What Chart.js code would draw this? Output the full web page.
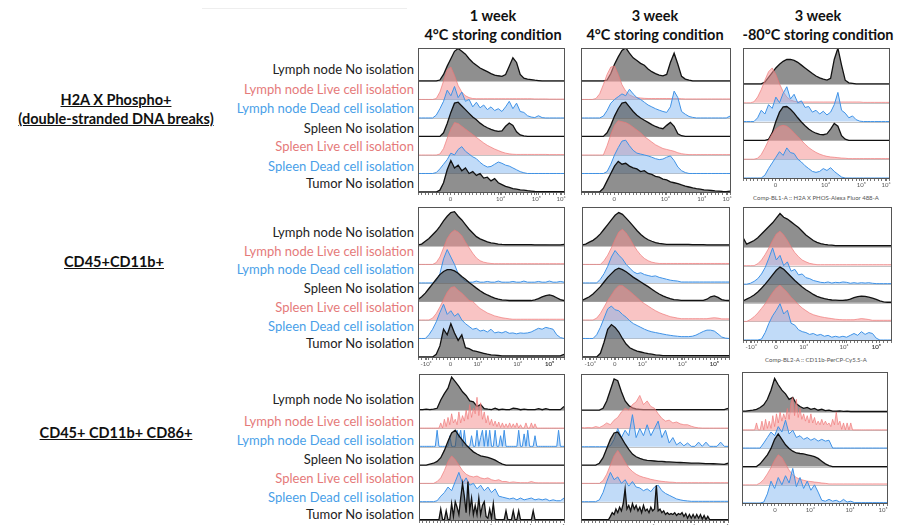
<!DOCTYPE html>
<html>
<head>
<meta charset="utf-8">
<script src="https://cdn.jsdelivr.net/npm/chart.js@4.4.1/dist/chart.umd.min.js"></script>
<style>
  body { margin: 0; background: #fff; }
  #fig { position: relative; width: 901px; height: 525px; overflow: hidden; background: #fff;
         font-family: Lato, "Open Sans", sans-serif; }
  .t { position: absolute; white-space: nowrap; line-height: 14px; }
  .lab { font-size: 13px; text-align: right; }
  .head { font-weight: bold; font-size: 14.5px; color: #111; transform: translateX(-50%); }
  .grp { font-weight: bold; font-size: 14.5px; color: #111; text-decoration: underline; transform: translateX(-50%); }
  .ax { font-size: 6px; color: #555; line-height: 8px; transform: translateX(-50%); }
  .pane { position: absolute; }
</style>
</head>
<body>
<div id="fig"></div>
<script>
// --- text ---
const rowNames = ['Lymph node No isolation', 'Lymph node Live cell isolation', 'Lymph node Dead cell isolation',
  'Spleen No isolation', 'Spleen Live cell isolation', 'Spleen Dead cell isolation', 'Tumor No isolation'];
const rowKinds = ['none', 'live', 'dead', 'none', 'live', 'dead', 'none'];
const markers = [['H2A X Phospho+', '(double-stranded DNA breaks)'], ['CD45+CD11b+'], ['CD45+ CD11b+ CD86+']];
const columns = [['1 week', '4°C storing condition'], ['3 week', '4°C storing condition'], ['3 week', '-80°C storing condition']];
const axisTitles = ['Comp-BL1-A :: H2A X PHOS-Alexa Fluor 488-A', 'Comp-BL2-A :: CD11b-PerCP-Cy5.5-A'];

// x runs 0..40 across each panel (channel position)
const h2aTickVals = [8.9, 22.6, 32.4, 39.2];
const h2aTickText = ['0', '10⁴', '10⁵', '10⁶'];
const cd11bTickVals = [2.2, 8.9, 16.4, 27.3, 36];
const cd11bTickText = ['-10³', '0', '10³', '10⁴', '10⁵'];
const cd86TickVals = [9.1, 18.8, 29.8, 38.9];
const cd86TickText = ['0', '10³', '10⁴', '10⁵'];

// --- histogram heights (in row units), one list per sample row ---
const h2a1w = [
  [0,0,0,0,0,0,0.05,0.35,0.8,1.2, 1.6,1.75,1.6,1.45,1.2,1.0,0.85,0.7,0.6,0.5, 0.4,0.32,0.28,0.25,0.35,0.8,1.25,1.0,0.35,0.15, 0.1,0.07,0.04,0.02,0,0,0,0,0,0, 0],
  [0,0,0,0,0,0.05,0.4,1.0,1.6,1.75, 1.3,0.75,0.4,0.2,0.1,0.05,0.04,0.04,0.04,0.04, 0.04,0.04,0.04,0.04,0.04,0.04,0.04,0.04,0.04,0.04, 0.04,0.04,0.03,0.03,0.03,0.03,0.02,0.02,0.02,0.02, 0.02],
  [0,0,0,0,0,0.15,0.5,0.9,1.5,1.2, 1.7,1.1,1.4,0.9,1.0,0.6,0.85,0.55,0.7,0.45, 0.6,0.4,0.5,0.35,0.6,0.9,0.5,0.8,0.35,0.3, 0.12,0.05,0.02,0.12,0.02,0,0,0,0,0, 0],
  [0,0,0,0,0,0,0,0.2,0.7,1.3, 1.8,1.85,1.65,1.45,1.25,1.05,0.9,0.72,0.58,0.47, 0.38,0.32,0.28,0.3,0.55,0.73,0.6,0.25,0.08,0.03, 0,0,0,0,0,0,0,0,0,0, 0],
  [0,0,0,0,0,0,0.05,0.35,0.9,1.4, 1.75,1.7,1.55,1.4,1.25,1.1,0.95,0.8,0.65,0.52, 0.42,0.32,0.24,0.16,0.1,0.06,0.04,0.03,0.03,0.03, 0.03,0.03,0.03,0.03,0.03,0.03,0.02,0.02,0.02,0.02, 0.02],
  [0,0,0,0,0,0.05,0.25,0.5,0.75,1.1, 1.0,1.3,1.45,1.2,1.05,0.9,0.8,0.6,0.45,0.35, 0.38,0.5,0.62,0.55,0.45,0.4,0.3,0.2,0.1,0.04, 0,0,0,0,0,0,0,0,0,0, 0],
  [0,0,0,0,0,0,0.1,0.5,1.2,1.7, 1.3,1.45,1.15,1.3,1.0,1.1,0.9,1.0,0.75,0.8, 0.6,0.72,0.5,0.4,0.3,0.25,0.18,0.15,0.12,0.1, 0.07,0.05,0.03,0.02,0.02,0.02,0.02,0.02,0.02,0.02, 0.02]
];
const h2a3w4 = [
  [0,0,0,0,0,0,0,0.05,0.4,0.9, 1.3,1.65,1.8,1.5,1.25,1.1,0.95,0.85,0.65,0.5, 0.4,0.32,0.28,0.35,1.0,1.5,0.9,0.25,0.1,0.04, 0,0,0,0,0,0,0,0,0,0, 0],
  [0,0,0,0,0.05,0.3,0.8,1.35,1.75,1.8, 1.35,0.8,0.45,0.25,0.15,0.1,0.08,0.06,0.05,0.05, 0.05,0.05,0.05,0.05,0.05,0.05,0.05,0.04,0.03,0.03, 0.03,0.03,0.03,0.03,0.03,0.03,0.03,0.03,0.03,0.03, 0.03],
  [0,0,0,0,0,0,0.1,0.4,0.8,1.0, 1.15,1.3,1.2,1.55,1.3,1.1,1.0,0.85,0.7,0.6, 0.5,0.42,0.35,0.3,0.6,1.45,1.1,0.35,0.2,0.08, 0.03,0,0,0,0,0,0,0,0,0, 0.1],
  [0,0,0,0,0,0,0,0.2,0.6,1.1, 1.5,1.8,1.85,1.6,1.35,1.15,1.0,0.88,0.76,0.64, 0.54,0.46,0.42,0.6,0.76,0.55,0.15,0.04,0,0, 0,0,0,0,0,0,0,0,0,0, 0],
  [0,0,0,0,0,0,0,0.5,1.1,1.6, 1.85,1.8,1.75,1.65,1.5,1.35,1.2,1.0,0.85,0.7, 0.55,0.45,0.35,0.3,0.25,0.2,0.12,0.07,0.04,0.02, 0.02,0.02,0.02,0.02,0.02,0.02,0.02,0.02,0.02,0.02, 0.02],
  [0,0,0,0,0,0,0,0.1,0.5,1.0, 1.4,1.75,1.8,1.5,1.25,1.1,1.05,1.0,0.95,0.88, 0.8,0.75,0.78,0.88,0.95,0.7,0.35,0.15,0.05,0, 0,0,0,0,0,0,0,0,0,0, 0],
  [0,0,0,0,0,0,0.2,0.6,1.0,1.4, 1.65,1.5,1.55,1.4,1.3,1.25,1.1,1.15,1.0,0.95, 0.85,0.8,0.7,0.65,0.55,0.5,0.45,0.38,0.32,0.27, 0.22,0.18,0.15,0.12,0.1,0.08,0.06,0.05,0.03,0.02, 0.05]
];
const h2a3w80 = [
  [0,0,0,0,0,0,0.1,0.35,0.6,0.85, 1.05,1.2,1.3,1.3,1.25,1.15,1.0,0.85,0.7,0.55, 0.42,0.32,0.25,0.2,0.3,1.3,1.9,1.0,0.2,0.06, 0.03,0,0,0,0,0,0,0,0,0, 0],
  [0,0,0,0.05,0.3,0.7,1.2,1.65,1.85,1.5, 1.0,0.6,0.3,0.15,0.08,0.04,0.04,0.04,0.04,0.04, 0.04,0.04,0.04,0.04,0.04,0.04,0.04,0.04,0.04,0.04, 0.04,0.04,0.04,0.02,0.02,0.02,0.02,0.02,0.02,0.02, 0.02],
  [0,0,0,0,0.2,0.6,0.4,0.9,0.7,1.3, 1.0,1.5,1.85,1.2,1.45,1.0,1.1,0.75,0.8,0.5, 0.6,0.4,0.55,0.35,0.5,0.9,1.55,0.6,0.45,0.2, 0.3,0.1,0.02,0,0,0,0,0,0,0, 0],
  [0,0,0,0,0,0,0,0.05,0.4,1.0, 1.5,1.78,1.8,1.65,1.45,1.2,0.98,0.78,0.6,0.47, 0.38,0.32,0.3,0.35,0.6,0.9,0.75,0.25,0.06,0, 0,0,0,0,0,0,0,0,0,0, 0],
  [0,0,0,0,0.05,0.25,0.6,1.0,1.35,1.6, 1.75,1.8,1.75,1.6,1.4,1.2,1.0,0.8,0.62,0.48, 0.36,0.27,0.2,0.15,0.12,0.1,0.08,0.06,0.05,0.03, 0.03,0.03,0.03,0.03,0.03,0.03,0.03,0.03,0.03,0.03, 0.03],
  [0,0,0,0,0,0,0.15,0.5,0.8,1.1, 1.4,1.2,1.6,1.35,1.3,1.0,0.85,0.65,0.5,0.35, 0.3,0.35,0.5,0.4,0.55,0.35,0.2,0.05,0,0, 0,0,0,0,0,0,0,0,0,0, 0]
];
const cd11b1w = [
  [0.05,0.1,0.25,0.4,0.6,0.8,1.05,1.35,1.6,1.8, 1.85,1.6,1.4,1.15,0.9,0.7,0.5,0.38,0.3,0.22, 0.16,0.13,0.1,0.08,0.07,0.07,0.07,0.07,0.07,0.07, 0.07,0.07,0.06,0.06,0.06,0.06,0.05,0.05,0.05,0.05, 0.08],
  [0,0,0,0,0,0.1,0.4,0.9,1.4,1.7, 1.85,1.75,1.55,1.2,0.9,0.6,0.35,0.2,0.12,0.08, 0.05,0.04,0.04,0.04,0.04,0.04,0.04,0.04,0.04,0.04, 0.04,0.04,0.04,0.04,0.04,0.04,0.04,0.04,0.04,0.04, 0.04],
  [0,0,0,0,0,0.1,0.5,1.3,1.8,1.4, 1.0,0.5,0.25,0.1,0.04,0.04,0.1,0.04,0.04,0.08, 0.04,0.04,0.1,0.04,0.04,0.04,0.08,0.04,0.04,0.1, 0.04,0.04,0.04,0.08,0.04,0.04,0.1,0.04,0.04,0.08, 0.04],
  [0.1,0.25,0.45,0.7,0.95,1.2,1.45,1.62,1.72,1.72, 1.65,1.52,1.35,1.2,1.02,0.88,0.72,0.58,0.45,0.35, 0.26,0.18,0.12,0.09,0.07,0.05,0.05,0.05,0.05,0.05, 0.05,0.05,0.08,0.15,0.25,0.32,0.35,0.3,0.2,0.1, 0.05],
  [0,0,0,0,0.1,0.35,0.7,1.1,1.5,1.75, 1.8,1.6,1.45,1.25,1.05,1.0,0.8,0.62,0.5,0.38, 0.3,0.22,0.17,0.12,0.09,0.06,0.04,0.04,0.04,0.04, 0.04,0.04,0.04,0.04,0.04,0.04,0.04,0.04,0.04,0.04, 0.04],
  [0,0,0,0.2,0.5,0.9,1.4,1.85,1.3,1.5, 1.2,1.35,1.0,0.8,0.65,0.5,0.55,0.4,0.45,0.35, 0.5,0.3,0.35,0.3,0.38,0.28,0.3,0.25,0.3,0.28, 0.3,0.35,0.45,0.55,0.5,0.6,0.55,0.5,0.2,0.05, 0],
  [0,0,0,0,0,0.15,0.6,1.5,1.2,1.8, 1.3,0.9,1.2,0.5,0.45,0.35,0.3,0.25,0.2,0.15, 0.12,0.1,0.08,0.06,0.06,0.06,0.06,0.06,0.06,0.06, 0.06,0.06,0.06,0.06,0.06,0.06,0.06,0.06,0.06,0.06, 0.15]
];
const cd11b3w4 = [
  [0.05,0.1,0.2,0.3,0.45,0.65,0.9,1.15,1.4,1.65, 1.8,1.7,1.5,1.28,1.05,0.82,0.62,0.45,0.33,0.25, 0.18,0.14,0.11,0.08,0.08,0.08,0.08,0.08,0.08,0.08, 0.07,0.07,0.07,0.07,0.06,0.06,0.06,0.06,0.06,0.06, 0.06],
  [0,0,0,0,0,0,0.2,0.5,0.9,1.35, 1.75,1.9,1.7,1.4,1.05,0.75,0.5,0.32,0.2,0.12, 0.08,0.05,0.05,0.05,0.05,0.05,0.05,0.05,0.05,0.05, 0.05,0.05,0.05,0.05,0.05,0.05,0.05,0.05,0.05,0.05, 0.05],
  [0,0,0,0,0,0.2,0.5,0.9,1.4,1.75, 1.5,1.3,1.0,0.8,0.6,0.5,0.55,0.45,0.4,0.35, 0.38,0.3,0.25,0.2,0.15,0.12,0.1,0.05,0.05,0.05, 0.05,0.05,0.05,0.05,0.05,0.05,0.05,0.05,0.05,0.05, 0.05],
  [0.05,0.15,0.25,0.4,0.6,0.8,1.05,1.3,1.5,1.7, 1.8,1.72,1.6,1.45,1.3,1.18,1.05,0.92,0.8,0.66, 0.52,0.4,0.3,0.22,0.15,0.1,0.08,0.06,0.06,0.06, 0.06,0.06,0.06,0.06,0.12,0.25,0.3,0.22,0.1,0.06, 0.05],
  [0,0,0,0,0.1,0.35,0.7,1.05,1.35,1.65, 1.85,1.85,1.7,1.55,1.38,1.2,1.02,0.88,0.75,0.62, 0.5,0.4,0.32,0.25,0.18,0.14,0.1,0.07,0.07,0.07, 0.07,0.07,0.07,0.07,0.07,0.1,0.12,0.1,0.06,0.06, 0.06],
  [0,0,0,0,0.2,0.6,1.1,1.6,1.75,1.55, 1.5,1.3,1.15,0.95,0.8,0.7,0.6,0.5,0.42,0.36, 0.32,0.28,0.24,0.2,0.17,0.14,0.12,0.1,0.1,0.1, 0.12,0.18,0.28,0.38,0.45,0.45,0.4,0.25,0.08,0.02, 0],
  [0,0,0,0,0,0.2,0.8,1.5,1.75,1.6, 1.35,1.0,0.7,0.5,0.4,0.32,0.27,0.22,0.18,0.15, 0.12,0.1,0.07,0.07,0.07,0.07,0.07,0.07,0.07,0.07, 0.07,0.07,0.07,0.07,0.07,0.07,0.07,0.07,0.07,0.07, 0.07]
];
const cd11b3w80 = [
  [0.5,0.15,0.25,0.35,0.5,0.7,0.9,1.1,1.3,1.55, 1.8,1.6,1.5,1.35,1.2,1.05,0.85,0.65,0.5,0.35, 0.25,0.18,0.14,0.11,0.1,0.07,0.07,0.07,0.07,0.07, 0.07,0.07,0.07,0.07,0.07,0.07,0.07,0.07,0.07,0.07, 0.07],
  [0,0,0,0,0.1,0.3,0.6,0.95,1.35,1.7, 1.85,1.65,1.35,1.0,0.7,0.48,0.3,0.2,0.12,0.08, 0.05,0.05,0.05,0.05,0.05,0.05,0.05,0.05,0.05,0.05, 0.05,0.05,0.05,0.05,0.05,0.05,0.05,0.05,0.05,0.05, 0.05],
  [0,0,0.05,0.15,0.3,0.55,0.9,1.4,1.95,1.3, 1.55,1.0,1.2,0.7,0.8,0.5,0.55,0.35,0.3,0.2, 0.15,0.1,0.08,0.12,0.06,0.1,0.08,0.12,0.1,0.05, 0.08,0.05,0.08,0.06,0.08,0.05,0.03,0.03,0.03,0.03, 0.03],
  [0.1,0.2,0.3,0.42,0.58,0.78,1.0,1.25,1.5,1.75, 1.92,1.8,1.6,1.4,1.2,1.02,0.85,0.7,0.58,0.45, 0.35,0.28,0.22,0.18,0.15,0.14,0.13,0.13,0.15,0.2, 0.28,0.33,0.36,0.34,0.3,0.25,0.18,0.1,0.05,0.03, 0.03],
  [0,0,0.1,0.25,0.45,0.7,0.95,1.25,1.55,1.8, 1.95,1.75,1.55,1.3,1.1,0.9,0.72,0.58,0.45,0.36, 0.3,0.25,0.21,0.18,0.15,0.12,0.1,0.09,0.09,0.09, 0.09,0.12,0.15,0.13,0.1,0.06,0.06,0.06,0.06,0.06, 0.06],
  [0,0,0,0,0,0.05,0.4,0.9,1.3,1.6, 1.95,1.4,1.6,0.9,0.8,0.55,0.45,0.4,0.3,0.35, 0.25,0.3,0.2,0.25,0.15,0.2,0.15,0.2,0.15,0.25, 0.35,0.25,0.45,0.3,0.4,0.35,0.1,0,0,0, 0]
];
const cd86_1w = [
  [0.02,0.03,0.05,0.03,0.05,0.1,0.55,0.9,1.2,1.8, 1.55,1.3,1.0,0.8,0.5,0.45,0.2,0.3,0.08,0.05, 0.03,0.1,0.02,0.05,0.02,0.02,0.1,0.08,0.02,0.05, 0.02,0.02,0.02,0.08,0.02,0.08,0.02,0.02,0.02,0.02, 0.2],
  [0.02,0.02,0.02,0.02,0.02,0.02,0.02,0.02,0.02,0.02, 0.02,0.02,0.3,0.02,0.5,0.1,0.6,0.2,0.8,0.3, 0.5,0.2,0.9,0.3,0.7,0.4,1.0,0.5,1.3,0.6,
   1.1,0.8,1.7,0.7,1.4,0.5,0.9,0.3,0.7,0.2, 0.5,0.15,0.4,0.1,0.35,0.05,0.3,0.05,0.25,0.05, 0.3,0.05,0.25,0.05,0.3,0.02,0.2,0.02,0.02,0.3,
   0.02,0.02,0.3,0.02,0.25,0.02,0.02,0.02,0.02,0.02, 0.02,0.02,0.02,0.02,0.02,0.02,0.02,0.02,0.02,0.02, 0.02],
  [0.02,0.02,0.02,0.02,0.02,0.02,0.02,0.02,0.02,0.02, 0.9,0.02,0.02,0.02,0.02,0.02,0.02,0.6,0.02,0.02, 0.02,0.9,0.5,0.9,0.02,0.9,0.02,0.02,0.02,0.6,
   0.02,0.02,0.9,0.02,0.5,0.9,0.02,0.9,0.02,0.9, 0.02,0.02,0.9,0.02,0.02,0.6,0.02,0.9,0.02,0.02, 0.02,0.02,0.02,0.02,0.02,0.9,0.02,0.02,0.7,0.02,
   0.9,0.02,0.02,0.02,0.6,0.02,0.02,0.02,0.02,0.02, 0.02,0.02,0.02,0.02,0.02,0.02,0.02,0.9,0.02,0.02, 0.02],
  [0,0,0,0.05,0.1,0.2,0.4,0.8,1.3,1.75, 1.9,1.6,1.35,1.1,0.9,0.72,0.6,0.5,0.46,0.42, 0.35,0.27,0.15,0.05,0,0,0,0,0,0, 0,0,0,0,0,0,0,0,0,0, 0],
  [0,0,0,0,0,0.1,0.3,0.7,1.2,1.5, 1.3,1.0,0.7,0.5,0.4,0.35,0.4,0.3,0.25,0.3, 0.2,0.15,0.2,0.1,0.1,0.05,0.08,0.05,0.04,0.04, 0.04,0.1,0.04,0.03,0.03,0.03,0.03,0.03,0.03,0.03, 0.03],
  [0,0,0,0,0,0.05,0.3,0.5,0.8,0.6, 1.1,1.6,1.0,1.3,0.9,1.0,0.7,0.9,0.6,0.8, 0.5,0.7,0.3,0.25,0.2,0.15,0.2,0.1,0.2,0.1, 0.15,0.2,0.1,0.15,0.1,0.15,0.05,0.1,0.05,0.05, 0.2],
  [0.02,0.02,0.02,0.02,0.02,0.02,0.02,0.02,0.02,0.02, 0.02,0.02,0.6,0.02,0.02,0.5,0.02,0.02,0.9,0.2, 1.0,0.7,0.3,1.2,2.0,1.3,0.4,2.1,0.5,1.2,
   0.3,0.8,0.3,1.2,0.3,0.8,1.0,0.2,0.1,0.6, 0.1,0.9,0.05,0.02,0.02,0.02,0.02,0.02,0.5,0.02, 0.02,0.02,0.5,0.02,0.02,0.5,0.02,0.02,0.02,0.02,
   0.02,0.02,0.02,0.5,0.02,0.02,0.02,0.02,0.02,0.02, 0.02,0.02,0.02,0.02,0.02,0.02,0.02,0.02,0.02,0.02, 0.02]
];
const cd86_3w4 = [
  [0,0,0,0,0,0,0.1,0.5,1.1,1.7, 1.6,1.0,0.5,0.25,0.12,0.06,0.04,0.02,0.02,0.02, 0.02,0.02,0.02,0.02,0.02,0.02,0.02,0.02,0.02,0.02, 0.02,0.02,0.02,0.02,0.02,0.02,0.02,0.02,0.02,0.02, 0.1],
  [0.05,0.03,0.05,0.03,0.1,0.05,0.15,0.3,0.2,0.45, 0.6,0.9,1.1,1.0,1.3,1.45,1.8,1.3,1.5,1.2, 1.1,0.8,0.55,0.4,0.45,0.3,0.35,0.25,0.2,0.2, 0.12,0.06,0.03,0.02,0.02,0.02,0.02,0.02,0.02,0.02, 0.02],
  [0,0,0,0,0,0,0,0,0.05,0.4, 1.0,0.5,0.9,0.6,1.75,0.5,1.0,0.6,1.2,0.6, 1.0,1.4,0.5,0.9,0.2,0.5,0.1,0.25,0.05,0.2, 0.02,0.02,0.25,0.02,0.25,0.02,0.02,0.02,0.25,0.02, 0.02],
  [0,0,0,0,0,0.1,0.4,0.9,1.4,1.75, 1.8,1.5,1.15,0.85,0.6,0.45,0.36,0.3,0.26,0.24, 0.22,0.2,0.2,0.18,0.17,0.16,0.15,0.14,0.13,0.12, 0.11,0.1,0.1,0.09,0.08,0.08,0.07,0.06,0.05,0.04, 0.1],
  [0,0,0,0,0,0,0.15,0.5,1.0,1.5, 1.8,1.5,1.15,0.85,0.65,0.5,0.4,0.33,0.28,0.22, 0.18,0.14,0.11,0.09,0.07,0.06,0.04,0.04,0.04,0.04, 0.04,0.04,0.04,0.04,0.04,0.04,0.04,0.04,0.04,0.04, 0.04],
  [0,0,0,0,0,0.1,0.5,1.1,1.6,1.2, 1.35,1.0,1.2,0.85,1.1,0.8,0.75,0.6,0.7,0.55, 0.8,0.9,0.6,0.45,0.35,0.25,0.15,0.1,0.06,0.04, 0.02,0.02,0.02,0.02,0.02,0.02,0.02,0.02,0.02,0.02, 0.02],
  [0.02,0.02,0.02,0.02,0.02,0.02,0.02,0.02,0.02,0.02, 0.02,0.02,0.02,0.02,0.02,0.02,0.2,0.4,0.3,0.6, 0.4,0.7,0.5,0.9,1.7,0.6,0.8,0.5,0.9,0.6,
   0.8,0.5,0.7,0.4,0.8,0.5,0.6,0.4,0.7,0.5, 0.6,1.9,0.5,0.6,0.4,0.5,0.3,0.4,0.3,0.35, 0.3,0.4,0.25,0.35,0.3,0.4,0.2,0.35,0.1,0.3,
   0.1,0.3,0.1,0.3,0.1,0.3,0.05,0.25,0.02,0.2, 0.02,0.02,0.02,0.02,0.02,0.02,0.02,0.02,0.02,0.02, 0.02]
];
const cd86_3w80 = [
  [0.05,0.05,0.08,0.1,0.15,0.25,0.4,0.7,1.2,1.85, 1.5,1.2,1.0,0.7,0.8,0.45,0.3,0.2,0.25,0.15, 0.2,0.1,0.15,0.08,0.1,0.05,0.05,0.06,0.04,0.05, 0.03,0.03,0.03,0.03,0.03,0.03,0.03,0.03,0.03,0.03, 0.03],
  [0.02,0.02,0.02,0.02,0.02,0.02,0.02,0.02,0.4,0.02, 0.02,0.5,0.02,0.6,0.1,0.5,0.1,0.8,0.2,0.9, 0.4,1.0,0.5,0.9,0.6,1.2,0.6,1.5,1.8,0.8,
   1.7,0.7,1.2,0.6,0.9,0.5,0.8,0.4,0.9,0.4, 0.7,0.3,0.5,0.3,0.6,0.3,0.5,0.3,0.4,0.2, 0.6,0.3,1.0,0.3,0.5,0.05,0.4,0.02,0.4,0.02,
   0.4,0.02,0.02,0.02,0.02,0.02,0.02,0.02,0.02,0.02, 0.02,0.02,0.02,0.02,0.02,0.02,0.02,0.02,0.02,0.02, 0.02],
  [0.02,0.02,0.02,0.02,0.02,0.02,0.3,0.6,0.9,0.7, 1.2,0.9,1.55,0.8,1.0,0.6,0.7,0.5,0.6,0.45, 0.55,0.4,0.5,0.4,0.45,0.02,0.02,0.02,0.02,0.02, 0.02,0.02,0.02,0.02,0.02,0.02,0.02,0.02,0.02,0.02, 0.02],
  [0,0,0,0,0,0.15,0.4,0.65,1.0,1.5, 1.8,1.5,1.2,1.0,0.85,0.75,0.72,0.7,0.65,0.6, 0.55,0.45,0.3,0.15,0.05,0,0,0,0,0, 0,0,0,0,0,0,0,0,0,0, 0],
  [0,0,0,0,0,0.1,0.3,0.6,0.95,1.35, 1.65,1.5,1.15,0.8,0.55,0.4,0.3,0.25,0.2,0.18, 0.15,0.13,0.1,0.08,0.05,0.05,0.05,0.05,0.05,0.05, 0.05,0.05,0.05,0.05,0.05,0.05,0.05,0.05,0.05,0.05, 0.05],
  [0,0,0,0,0,0,0.05,0.5,1.2,0.8, 1.4,1.0,1.5,1.1,1.9,0.9,1.4,0.8,1.2,0.7, 1.0,0.6,0.15,0.1,0.2,0.1,0.15,0.05,0.2,0.05, 0.1,0.02,0.02,0.02,0.02,0.02,0.02,0.02,0.02,0.02, 0.02]
];

// --- styles / layout ---
const kindStyle = {
  none: { line: '#111', fill: 'rgba(75,75,75,0.62)', w: 1.3 },
  live: { line: 'rgba(238,118,118,0.85)', fill: 'rgba(244,148,148,0.55)', w: 0.8 },
  dead: { line: '#3f92e6', fill: 'rgba(118,176,240,0.45)', w: 1 }
};
const textColor = { none: '#222', live: '#e57a7a', dead: '#4a9fe8' };

const panels = [
  { data: h2a1w,     left: 418, top: 48,  w: 146, h: 144, max: 7.78, tv: h2aTickVals,   tt: h2aTickText },
  { data: h2a3w4,    left: 581, top: 48,  w: 149, h: 144, max: 7.78, tv: h2aTickVals,   tt: h2aTickText },
  { data: h2a3w80,   left: 743, top: 48,  w: 146, h: 130, max: 6.91, tv: h2aTickVals,   tt: h2aTickText },
  { data: cd11b1w,   left: 418, top: 207, w: 146, h: 150, max: 8.1,  tv: cd11bTickVals, tt: cd11bTickText },
  { data: cd11b3w4,  left: 582, top: 207, w: 147, h: 150, max: 8.1,  tv: cd11bTickVals, tt: cd11bTickText },
  { data: cd11b3w80, left: 743, top: 207, w: 148, h: 133, max: 7.15, tv: cd11bTickVals, tt: cd11bTickText },
  { data: cd86_1w,   left: 419, top: 374, w: 145, h: 146, max: 7.97, tv: cd86TickVals,  tt: cd86TickText },
  { data: cd86_3w4,  left: 581, top: 374, w: 147, h: 146, max: 7.97, tv: cd86TickVals,  tt: cd86TickText },
  { data: cd86_3w80, left: 742, top: 372, w: 145, h: 131, max: 7.2,  tv: cd86TickVals,  tt: cd86TickText }
];

const labelY = [[69, 89, 108, 128, 146, 166, 183], [232, 251, 269, 288, 307, 326, 343], [399, 421, 440, 459, 478, 497, 514]];
const markerPos = [[116, 93], [114, 255], [116, 426]];
const colX = [493, 655, 818];

const fig = document.getElementById('fig');

function addText(cls, txt, x, y, color) {
  const d = document.createElement('div');
  d.className = 't ' + cls;
  d.textContent = txt;
  d.style.left = x + 'px';
  d.style.top = y + 'px';
  if (color) d.style.color = color;
  fig.appendChild(d);
  return d;
}

// faint frame line at the top-left of the label block
const fl = document.createElement('div');
Object.assign(fl.style, { position: 'absolute', left: '202px', top: '8px', width: '205px', height: '0', borderTop: '1px solid #eee' });
fig.appendChild(fl);

columns.forEach((c, k) => {
  addText('head', c[0], colX[k], 9);
  addText('head', c[1], colX[k], 28);
});

markers.forEach((m, g) => {
  m.forEach((line, j) => addText('grp', line, markerPos[g][0], markerPos[g][1] + j * 19));
});

labelY.forEach(ys => {
  ys.forEach((y, r) => {
    const d = addText('lab', rowNames[r], 0, y - 7, textColor[rowKinds[r]]);
    d.style.left = '';
    d.style.right = (901 - 414) + 'px';
  });
});

addText('ax', axisTitles[0], 816, 194);
addText('ax', axisTitles[1], 816, 356);

// ridge baselines + panel frame
const framePlugin = {
  id: 'frame',
  beforeDatasetsDraw(chart) {
    const { ctx, chartArea: a, scales: { y } } = chart;
    const n = chart.data.datasets.length;
    ctx.save();
    ctx.strokeStyle = '#b4b4b4';
    ctx.lineWidth = 0.8;
    for (let b = 1; b < n; b++) {
      const py = Math.round(y.getPixelForValue(b)) + 0.5;
      ctx.beginPath(); ctx.moveTo(a.left, py); ctx.lineTo(a.right, py); ctx.stroke();
    }
    ctx.restore();
  },
  afterDraw(chart) {
    const { ctx, chartArea: a } = chart;
    ctx.save();
    ctx.strokeStyle = '#555';
    ctx.lineWidth = 1;
    ctx.strokeRect(Math.round(a.left) + 0.5, Math.round(a.top) + 0.5, Math.round(a.right - a.left), Math.round(a.bottom - a.top));
    ctx.restore();
  }
};

const PAD = 10, TOP = 2, AXH = 16;

panels.forEach(p => {
  const box = document.createElement('div');
  box.className = 'pane';
  box.style.left = (p.left - PAD) + 'px';
  box.style.top = (p.top - TOP) + 'px';
  const cv = document.createElement('canvas');
  cv.width = p.w + 2 * PAD;
  cv.height = p.h + TOP + AXH;
  box.appendChild(cv);
  fig.appendChild(box);

  const n = p.data.length;
  const datasets = p.data.map((vals, r) => {
    const st = kindStyle[rowKinds[r]];
    const base = n - 1 - r;
    return {
      data: vals.map((v, j) => ({ x: j * 40 / (vals.length - 1), y: base + v })),
      borderColor: st.line,
      backgroundColor: st.fill,
      borderWidth: st.w,
      fill: { value: base },
      pointRadius: 0,
      tension: 0,
      order: n - r
    };
  });

  const minor = [];
  for (let v = 0; v <= 40; v++) minor.push(v);

  new Chart(cv, {
    type: 'line',
    data: { datasets },
    plugins: [framePlugin],
    options: {
      responsive: false,
      animation: false,
      layout: { padding: { left: PAD, right: PAD, top: TOP, bottom: 0 } },
      plugins: { legend: { display: false }, tooltip: { enabled: false } },
      scales: {
        x: {
          type: 'linear', min: 0, max: 40,
          afterBuildTicks: ax => {
            ax.ticks = minor.concat(p.tv).sort((a, b) => a - b).map(v => ({ value: v }));
          },
          afterFit: s => { s.height = AXH; },
          ticks: {
            autoSkip: false, maxRotation: 0, minRotation: 0, padding: 0,
            font: { size: 6, family: 'Lato' }, color: '#555',
            callback: v => { const k = p.tv.indexOf(v); return k >= 0 ? p.tt[k] : ''; }
          },
          grid: { drawOnChartArea: false, drawTicks: true, tickLength: 3, color: '#777' },
          border: { display: false }
        },
        y: { display: false, min: 0, max: p.max }
      }
    }
  });
});
</script>
</body>
</html>
